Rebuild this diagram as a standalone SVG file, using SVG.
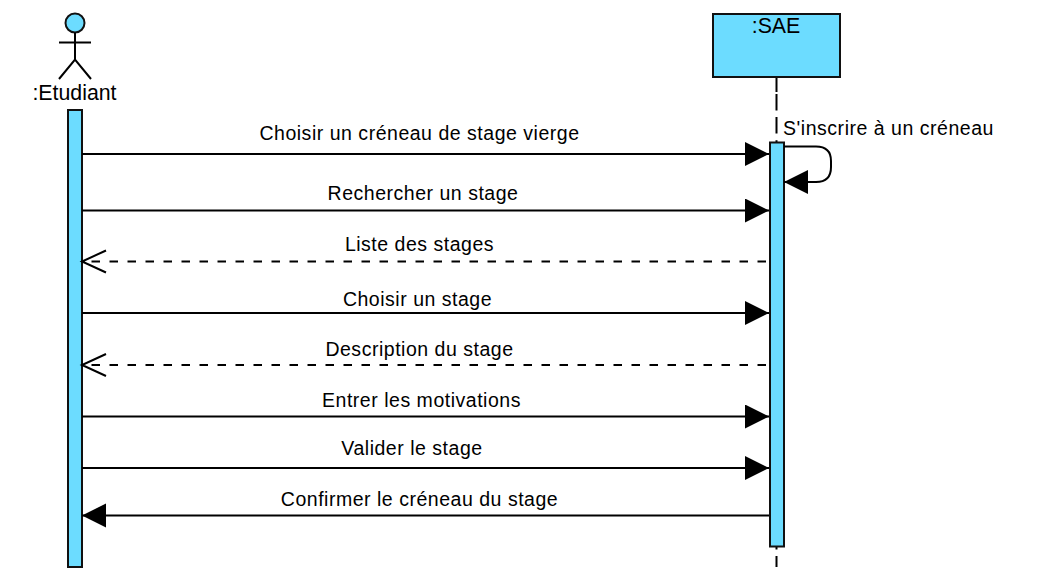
<svg xmlns="http://www.w3.org/2000/svg" width="1039" height="587" viewBox="0 0 1039 587">
<style>
.s{stroke:#000;stroke-width:2;fill:none}
.f{fill:#6cdcff;stroke:#111;stroke-width:2}
.d{stroke-dasharray:8.500 9.500;stroke-dashoffset:-3}
.l{stroke-dasharray:16.500 6.600}
text{font-family:"Liberation Sans",Arial,sans-serif;font-size:19.500px;letter-spacing:.52px;fill:#000;text-anchor:middle}
.n{font-size:21.300px;letter-spacing:0}
</style>
<defs>
<marker id="solid" markerUnits="userSpaceOnUse" markerWidth="26" markerHeight="26" refX="24" refY="12" orient="auto"><path d="M0 0L24 12L0 24Z" fill="#000"/></marker>
<marker id="open" markerUnits="userSpaceOnUse" markerWidth="28" markerHeight="28" refX="25" refY="12" orient="auto"><path d="M1 1L25 12L1 23" fill="none" stroke="#000" stroke-width="2"/></marker>
</defs>
<rect width="1039" height="587" fill="#fff"/>
<g id="etudiant">
<circle class="f" cx="75" cy="23" r="9.500"/>
<path class="s" d="M59 42.500H91M75 32.500V59.500M59 79L75 59.500L91 79"/>
<text class="n" x="74.500" y="99.500">:Etudiant</text>
<rect class="f" x="68" y="110" width="14" height="457"/>
</g>
<g id="sae">
<path class="s" d="M776.500 78V92"/>
<path class="s l" d="M776.500 94V567"/>
<rect class="f" x="713" y="14" width="127" height="63"/>
<text class="n" x="776" y="33">:SAE</text>
<rect class="f" x="770" y="142.500" width="14" height="404"/>
</g>
<g id="connectors">
<path class="s" marker-end="url(#solid)" d="M82 154H769"/>
<path class="s" marker-end="url(#solid)" d="M82 210.500H769"/>
<path class="s d" marker-end="url(#open)" d="M769 261.500H82"/>
<path class="s" marker-end="url(#solid)" d="M82 313H769"/>
<path class="s d" marker-end="url(#open)" d="M769 365H82"/>
<path class="s" marker-end="url(#solid)" d="M82 416.500H769"/>
<path class="s" marker-end="url(#solid)" d="M82 468H769"/>
<path class="s" marker-end="url(#solid)" d="M769 515.500H82"/>
<path class="s" marker-end="url(#solid)" d="M784 146.500H816Q831 146.500 831 161V167Q831 182 816 182H784"/>
</g>
<g id="labels">
<text x="419.500" y="140">Choisir un créneau de stage vierge</text>
<text x="423" y="199.500">Rechercher un stage</text>
<text x="419.500" y="251">Liste des stages</text>
<text x="417.500" y="305.500">Choisir un stage</text>
<text x="419.500" y="355.500">Description du stage</text>
<text x="421.500" y="406.500">Entrer les motivations</text>
<text x="412" y="454.500">Valider le stage</text>
<text x="419.500" y="505.500">Confirmer le créneau du stage</text>
<text x="888.500" y="135">S'inscrire à un créneau</text>
</g>
</svg>
